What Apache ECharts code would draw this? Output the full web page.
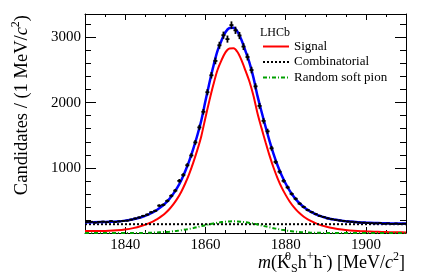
<!DOCTYPE html>
<html><head><meta charset="utf-8">
<script src="https://cdn.jsdelivr.net/npm/echarts@6/dist/echarts.min.js"></script>
<style>html,body{margin:0;padding:0;background:#fff}#c{width:427px;height:278px}</style>
</head><body><div id="c"></div>
<script>
// ---- data ----
const curveX = [1830,1832,1834,1836,1838,1840,1842,1844,1846,
  1847,1848,1849,1850,1851,1852,1853,1854,1855,1856,1857,1858,1859,1860,1861,1862,1863,1864,1865,1866,
  1867,1868,1869,1870,1871,1872,1873,1874,1875,1876,1877,1878,1879,1880,1881,1882,1883,1884,1885,1886,
  1888,1890,1892,1894,1896,1898,1900,1902,1904,1906,1908,1910];
const totalY = [165,165,167,171,178,190,210,242,290,
  320,357,402,455,520,600,695,810,950,1110,1295,1500,1730,2020,2300,2560,2790,2950,3080,3145,
  3150,3090,2960,2790,2610,2380,2100,1860,1630,1410,1210,1035,885,760,650,560,485,425,375,335,
  275,235,207,188,175,166,160,155,151,148,146,144];
const signalY = [30,30,32,36,43,55,75,107,151,
  179,213,255,304,365,439,527,633,763,912,1084,1275,1490,1765,2031,2278,2497,2648,2771,2832,
  2835,2777,2652,2490,2320,2102,1835,1609,1393,1187,1001,839,700,585,484,401,332,277,230,193,
  137,99,72,53,40,31,25,20,16,13,11,9];
const randomY = [0,0,0,0,0,0,0,0,4,
  6,9,12,16,20,26,33,42,52,63,76,90,105,120,134,147,158,167,174,178,
  180,178,173,165,155,143,130,116,102,88,74,61,50,40,31,24,18,13,10,7,
  3,1,0,0,0,0,0,0,0,0,0,0];
const combX = [1830, 1910];
const combY = [135, 135];
const binX = [1830.5,1831.5,1832.5,1833.5,1834.5,1835.5,1836.5,1837.5,1838.5,1839.5,
  1840.5,1841.5,1842.5,1843.5,1844.5,1845.5,1846.5,1847.5,1848.5,1849.5,
  1850.5,1851.5,1852.5,1853.5,1854.5,1855.5,1856.5,1857.5,1858.5,1859.5,
  1860.5,1861.5,1862.5,1863.5,1864.5,1865.5,1866.5,1867.5,1868.5,1869.5,
  1870.5,1871.5,1872.5,1873.5,1874.5,1875.5,1876.5,1877.5,1878.5,1879.5,
  1880.5,1881.5,1882.5,1883.5,1884.5,1885.5,1886.5,1887.5,1888.5,1889.5,
  1890.5,1891.5,1892.5,1893.5,1894.5,1895.5,1896.5,1897.5,1898.5,1899.5,
  1900.5,1901.5,1902.5,1903.5,1904.5,1905.5,1906.5,1907.5,1908.5,1909.5];
const binY = [168,172,160,170,174,166,182,170,178,186,
  190,205,222,238,262,282,318,340,420,432,
  492,570,650,800,890,1040,1190,1390,1620,1860,
  2160,2420,2640,2880,3035,2975,3190,3110,3030,2860,
  2700,2500,2250,1950,1720,1560,1300,1090,940,800,
  700,600,525,450,400,352,320,290,262,245,
  225,212,202,192,185,176,172,165,160,158,
  155,150,148,152,142,146,140,144,138,142];
const xMajor = [1840,1860,1880,1900];
const xMinor = [1835,1845,1850,1855,1865,1870,1875,1885,1890,1895,1905];
const yMajor = [1000,2000,3000];
const yMinor = [200,400,600,800,1200,1400,1600,1800,2200,2400,2600,2800,3200];
const legendNames = ['Signal','Combinatorial','Random soft pion'];

// ---- chart ----
const FONT = 'Liberation Serif';
const X_MIN = 1830, X_MAX = 1910, Y_MIN = 0, Y_MAX = 3360;
const plain = v => String(v);
function xAx(pos, vals, len, labels, line) {
  return { type:'value', position:pos, min:X_MIN, max:X_MAX,
    axisLine:{show:line, onZero:false, lineStyle:{color:'#000', width:1}},
    axisTick:{show:true, inside:true, length:len, customValues:vals, lineStyle:{color:'#000', width:1}},
    axisLabel:{show:labels, customValues:vals, formatter:plain, color:'#000', fontFamily:FONT, fontSize:15, margin:5},
    splitLine:{show:false} };
}
function yAx(pos, vals, len, labels, line) {
  return { type:'value', position:pos, min:Y_MIN, max:Y_MAX,
    axisLine:{show:line, onZero:false, lineStyle:{color:'#000', width:1}},
    axisTick:{show:true, inside:true, length:len, customValues:vals, lineStyle:{color:'#000', width:1}},
    axisLabel:{show:labels, customValues:vals, formatter:plain, color:'#000', fontFamily:FONT, fontSize:15, margin:4},
    splitLine:{show:false} };
}
const pair = (xs, ys) => xs.map((x, i) => [x, ys[i]]);
const chart = echarts.init(document.getElementById('c'), null, {renderer:'canvas'});
const txt = {fill:'#000', fontFamily:FONT};
chart.setOption({
  animation:false,
  backgroundColor:'#fff',
  grid:{left:85, right:21, top:14, bottom:45, containLabel:false},
  xAxis:[xAx('bottom', xMajor, 6, true, true), xAx('bottom', xMinor, 3, false, false),
         xAx('top', xMajor, 6, false, true), xAx('top', xMinor, 3, false, false)],
  yAxis:[yAx('left', yMajor, 11, true, true), yAx('left', yMinor, 6, false, false),
         yAx('right', yMajor, 11, false, true), yAx('right', yMinor, 6, false, false)],
  legend:{orient:'vertical', left:262, top:40, itemWidth:26, itemHeight:12, itemGap:2.5, padding:0,
    selectedMode:false, data:legendNames,
    itemStyle:{opacity:0},
    textStyle:{fontFamily:FONT, fontSize:13, color:'#000', lineHeight:12}},
  graphic:[
    {type:'text', left:260, top:27, style:{text:'LHCb', font:'12px "Liberation Serif"', fill:'#000'}},
    {type:'text', x:22, y:15, rotation:Math.PI/2,
      style:{text:'{a|Candidates / (1 MeV/}{i|c}{s|2}{a|)}', align:'right', verticalAlign:'middle',
        rich:{a:Object.assign({fontSize:18.5, lineHeight:24, verticalAlign:'middle'}, txt),
              i:Object.assign({fontSize:18.5, fontStyle:'italic', lineHeight:24, verticalAlign:'middle'}, txt),
              s:Object.assign({fontSize:12, lineHeight:24, verticalAlign:'top'}, txt)}}},
    {type:'text', x:405, y:263,
      style:{text:'{i|m}{a|(K}{sp|0}{sb|S}{a|h}{sp2|+}{a|h}{sp2|-}{a|) [MeV/}{i|c}{sp2|2}{a|]}',
        align:'right', verticalAlign:'middle',
        rich:{a:Object.assign({fontSize:18, lineHeight:24, verticalAlign:'middle'}, txt),
              i:Object.assign({fontSize:18, fontStyle:'italic', lineHeight:24, verticalAlign:'middle'}, txt),
              sp:Object.assign({fontSize:12, lineHeight:24, verticalAlign:'top', width:1}, txt),
              sp2:Object.assign({fontSize:12, lineHeight:24, verticalAlign:'top'}, txt),
              sb:Object.assign({fontSize:12, lineHeight:24, verticalAlign:'bottom'}, txt)}}}
  ],
  series:[
    {type:'line', name:'Signal', data:pair(curveX, signalY), symbol:'none', smooth:0.3, z:2,
      lineStyle:{color:'#ff0000', width:2}, itemStyle:{color:'#ff0000'}},
    {type:'line', name:'Combinatorial', data:pair(combX, combY), symbol:'none', z:2,
      lineStyle:{color:'#000', width:2, type:[2,2]}, itemStyle:{color:'#000'}},
    {type:'line', name:'Random soft pion', data:pair(curveX, randomY), symbol:'none', smooth:0.3, z:2,
      lineStyle:{color:'#00a000', width:2, type:[4,2,1,2]}, itemStyle:{color:'#00a000'}},
    {type:'line', name:'Total', data:pair(curveX, totalY), symbol:'none', smooth:0.3, z:3,
      lineStyle:{color:'#0000ff', width:2.5}, itemStyle:{color:'#0000ff'}},
    {type:'custom', name:'Data', data:pair(binX, binY), z:5, silent:true,
      renderItem:function(params, api){
        const x = api.value(0), y = api.value(1), e = Math.sqrt(y);
        const a = api.coord([x-0.5, y]), b = api.coord([x+0.5, y]);
        const c = api.coord([x, y-e]), d = api.coord([x, y+e]);
        const st = {stroke:'#000', lineWidth:1.8};
        return {type:'group', children:[
          {type:'line', shape:{x1:a[0], y1:a[1], x2:b[0], y2:b[1]}, style:st},
          {type:'line', shape:{x1:c[0], y1:c[1], x2:d[0], y2:d[1]}, style:st}]};
      }}
  ]
});
</script></body></html>
